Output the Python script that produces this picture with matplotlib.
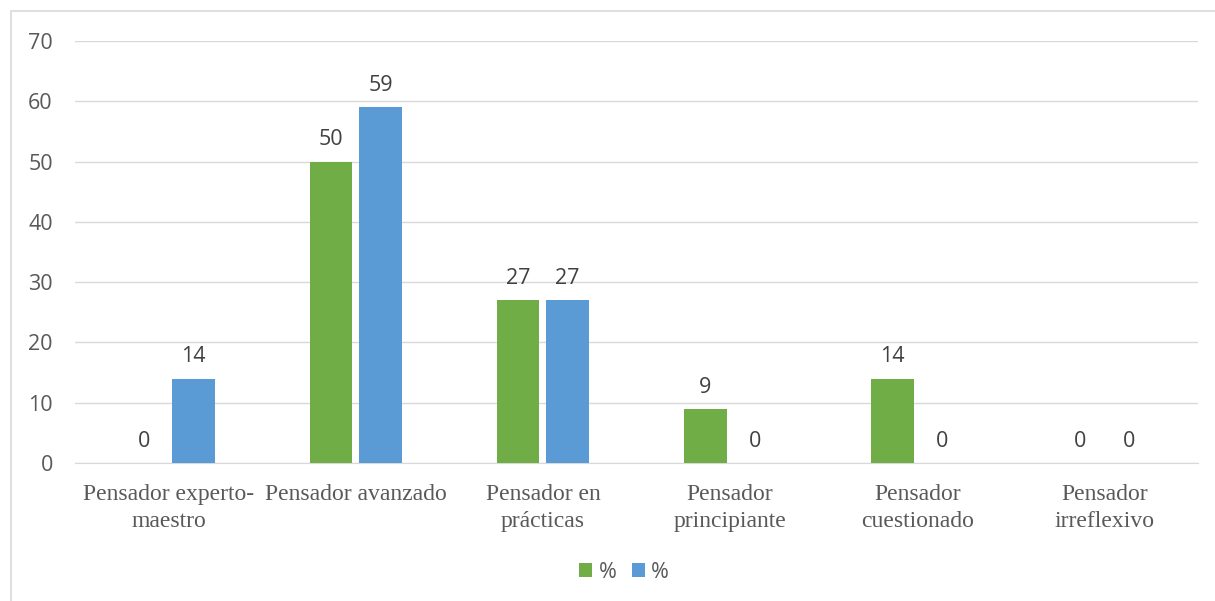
import matplotlib
matplotlib.use("Agg")
import matplotlib.pyplot as plt
from matplotlib.patches import Rectangle
import numpy as np

categories = ["Pensador experto-\nmaestro", "Pensador avanzado", "Pensador en\nprácticas",
              "Pensador\nprincipiante", "Pensador\ncuestionado", "Pensador\nirreflexivo"]
green_vals = [0, 50, 27, 9, 14, 0]
blue_vals = [14, 59, 27, 0, 0, 0]
series_names = ["%", "%"]

GREEN = "#70AD47"
BLUE = "#5B9BD5"
TXT = "#595959"

fig = plt.figure(figsize=(12.15, 6.01), dpi=100)
ax = fig.add_axes([75 / 1215, 1 - 463 / 601, 1123 / 1215, 422 / 601])

# chart border like the office export
fig.patches.append(Rectangle((11 / 1215, -0.01), 1.0, 1 - 11 / 601 + 0.01,
                             transform=fig.transFigure, fill=False,
                             edgecolor="#D9D9D9", linewidth=1.2))

x = np.arange(len(categories))
w = 0.227
off = 0.132
b1 = ax.bar(x - off, green_vals, w, color=GREEN, label=series_names[0], zorder=3)
b2 = ax.bar(x + off, blue_vals, w, color=BLUE, label=series_names[1], zorder=3)

for bars in (b1, b2):
    for rect, v in zip(bars, bars.datavalues):
        ax.annotate(f"{v:g}", (rect.get_x() + rect.get_width() / 2, v),
                    xytext=(0, 8), textcoords="offset points",
                    ha="center", va="bottom", fontsize=15.5,
                    family="Open Sans", color="#404040")

ax.set_xlim(-0.5, len(categories) - 0.5)
ax.set_ylim(0, 70)
ax.set_yticks(range(0, 71, 10))
ax.grid(axis="y", color="#D9D9D9", linewidth=1, zorder=0)
for s in ["top", "right", "left"]:
    ax.spines[s].set_visible(False)
ax.spines["bottom"].set_color("#D9D9D9")
ax.tick_params(axis="both", length=0, colors=TXT)
ax.tick_params(axis="y", pad=16)
ax.tick_params(axis="x", pad=15)
for lab in ax.get_yticklabels():
    lab.set_fontsize(15.5)
    lab.set_family("Open Sans")
ax.set_xticks(x)
ax.set_xticklabels(categories, fontsize=17, family="Liberation Serif",
                   color=TXT, linespacing=1.4, va="top")

leg = fig.legend(loc="center", bbox_to_anchor=(624 / 1215, 1 - 572 / 601), ncol=2,
                 frameon=False, prop={"family": "Open Sans", "size": 15.5},
                 handlelength=0.62, handleheight=0.62, handletextpad=0.3,
                 columnspacing=0.7)
for t in leg.get_texts():
    t.set_color(TXT)

fig.savefig("out.png", dpi=100, facecolor="white")
